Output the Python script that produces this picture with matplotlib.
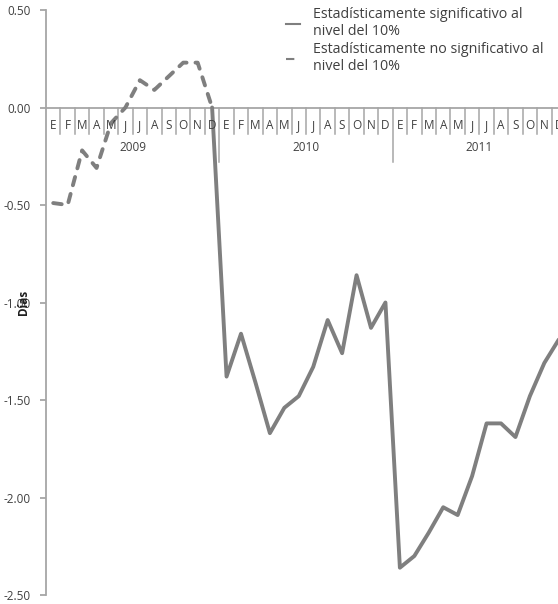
import matplotlib
matplotlib.use('Agg')
import matplotlib.pyplot as plt
from matplotlib.lines import Line2D

plt.rcParams['font.family'] = ['Open Sans', 'DejaVu Sans']

## Data (days), monthly 2009-2011
months = ['E', 'F', 'M', 'A', 'M', 'J', 'J', 'A', 'S', 'O', 'N', 'D'] * 3
years = ['2009', '2010', '2011']
# not significant part (Jan 2009 - Dec 2009)
no_sig = [-0.49, -0.50, -0.22, -0.31, -0.08, 0.00, 0.14, 0.09, 0.16, 0.23, 0.23, 0.00]
# significant part (Dec 2009 - Dec 2011)
sig = [0.00,
       -1.38, -1.16, -1.41, -1.67, -1.54, -1.48, -1.33, -1.09, -1.26, -0.86, -1.13, -1.00,
       -2.36, -2.30, -2.18, -2.05, -2.09, -1.89, -1.62, -1.62, -1.69, -1.48, -1.31, -1.19]

grey = '#7f7f7f'
axis_grey = '#a6a6a6'
text_grey = '#404040'

fig = plt.figure(figsize=(5.58, 6.04), dpi=100)
ax = fig.add_axes([46/558, 9/604, 520/558, 585/604])

x_ns = list(range(len(no_sig)))
x_s = list(range(11, 11 + len(sig)))
ax.plot(x_ns, no_sig, color=grey, lw=2.8, linestyle=(0, (2.2, 2.3)),
        dash_capstyle='round', solid_joinstyle='round')
ax.plot(x_s, sig, color=grey, lw=2.8, solid_capstyle='round', solid_joinstyle='round')

ax.set_xlim(-0.5, 35.5)
ax.set_ylim(-2.5, 0.5)

# axes styling
for s in ['top', 'right', 'bottom']:
    ax.spines[s].set_visible(False)
ax.spines['left'].set_color(axis_grey)
ax.spines['left'].set_linewidth(1.3)
ax.set_yticks([0.5, 0.0, -0.5, -1.0, -1.5, -2.0, -2.5])
ax.set_yticklabels(['0.50', '0.00', '-0.50', '-1.00', '-1.50', '-2.00', '-2.50'])
ax.tick_params(axis='y', colors=axis_grey, length=4, width=1.3, labelsize=8.5,
               labelcolor=text_grey, pad=7)
ax.set_xticks([])
# y label sits over the -1.00 tick label, as in the original
ax.set_ylabel('Días', fontsize=8.5, fontweight='bold', color='#202020', labelpad=-19)

# category axis drawn at y = 0
ax.axhline(0, color=axis_grey, lw=1.3, zorder=1)
for k in range(1, 36):
    if k % 12 == 0:
        ax.plot([k - 0.5, k - 0.5], [0, -0.277], color=axis_grey, lw=1.1, zorder=1)
    else:
        ax.plot([k - 0.5, k - 0.5], [0, -0.138], color=axis_grey, lw=1.1, zorder=1)
for i, m in enumerate(months):
    ax.text(i, -0.092, m, ha='center', va='center', fontsize=8.5, color=text_grey)
for j, yr in enumerate(years):
    ax.text(12 * j + 5.5, -0.205, yr, ha='center', va='center', fontsize=8.5, color=text_grey)

# legend
handles = [Line2D([], [], color=grey, lw=1.5),
           Line2D([], [], color=grey, lw=1.5, linestyle=(0, (4, 3)))]
labels = ['Estadísticamente significativo al\nnivel del 10%',
          'Estadísticamente no significativo al\nnivel del 10%']
leg = ax.legend(handles, labels, loc='upper left', bbox_to_anchor=(279/558, 1 - 0/604),
                bbox_transform=fig.transFigure, frameon=False, fontsize=10.3,
                handlelength=1.0, handletextpad=0.9, labelspacing=0.2,
                borderpad=0, labelcolor=text_grey)

fig.savefig('out.png', dpi=100)
